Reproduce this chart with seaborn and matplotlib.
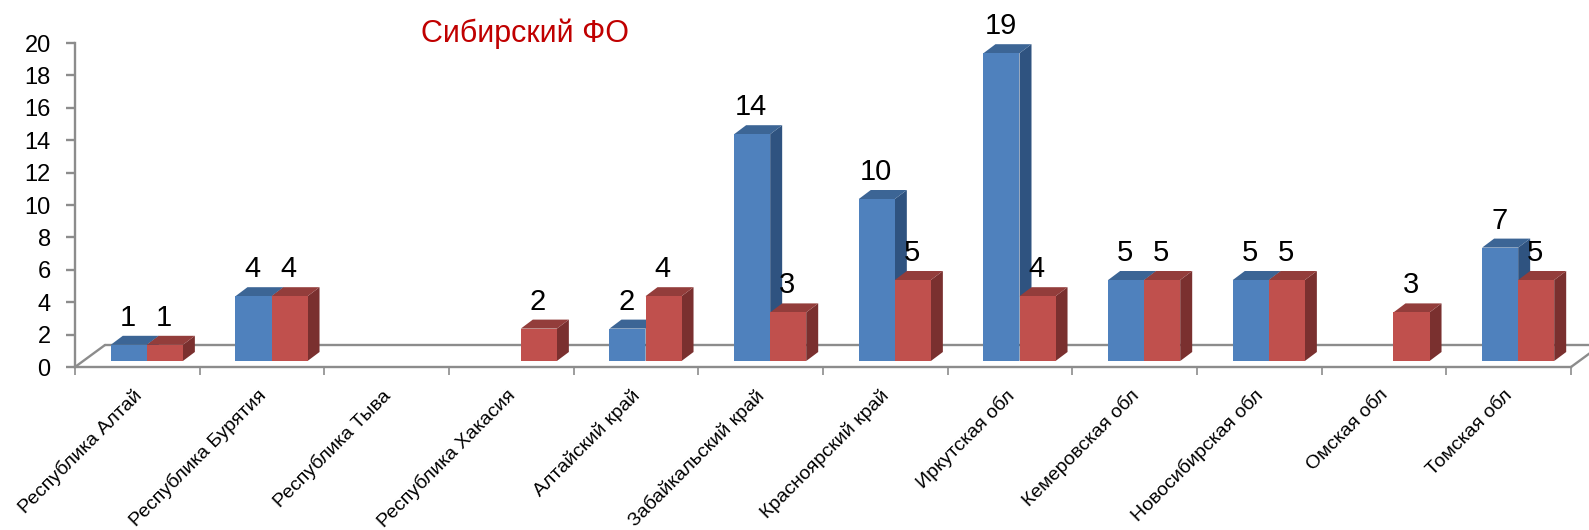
import numpy as np
import pandas as pd
import seaborn as sns
import matplotlib
matplotlib.use("Agg")
import matplotlib.pyplot as plt
from matplotlib.patches import Polygon
from matplotlib.transforms import Affine2D

regions = ["Республика Алтай", "Республика Бурятия", "Республика Тыва", "Республика Хакасия",
           "Алтайский край", "Забайкальский край", "Красноярский край", "Иркутская обл",
           "Кемеровская обл", "Новосибирская обл", "Омская обл", "Томская обл"]
blue_values = [1, 4, np.nan, np.nan, 2, 14, 10, 19, 5, 5, np.nan, 7]
red_values = [1, 4, np.nan, 2, 4, 3, 5, 4, 5, 5, 3, 5]
y_ticks = list(range(0, 21, 2))
title_text = "Сибирский ФО"

sns.set_theme(style="white")
plt.rcParams["font.family"] = ["Liberation Sans", "DejaVu Sans"]

df = pd.DataFrame({
    "region": regions * 2,
    "series": ["blue"] * len(regions) + ["red"] * len(regions),
    "value": blue_values + red_values,
})

W, H = 1589, 530
fig = plt.figure(figsize=(W / 100, H / 100), dpi=100, facecolor="white")
ax = fig.add_axes([75 / W, (H - 367) / H, (1571 - 75) / W, 324 / H])

sns.barplot(data=df, x="region", y="value", hue="series", order=regions,
            palette={"blue": "#4F81BD", "red": "#C0504D"}, saturation=1,
            width=0.578, legend=False, ax=ax, linewidth=0, errorbar=None)
ax.set_xlim(-0.5, len(regions) - 0.5)
ax.set_ylim(0, 20)
ax.set_xlabel("")
ax.set_ylabel("")

GREY = "#8C8C8C"
front = ax.transData + Affine2D().translate(9.5, 6)
DEPTH_X, DEPTH_Y = 12, 9
px2y = 20 / 324
per_x = (len(regions)) / (1571 - 75)

shades = [("#3C6595", "#2F5380"), ("#933D3B", "#7A302F")]
for i, container in enumerate(ax.containers):
    top_c, side_c = shades[i]
    for bar in container:
        h = bar.get_height()
        if not np.isfinite(h) or h <= 0:
            bar.set_visible(False)
            continue
        x0, x1 = bar.get_x(), bar.get_x() + bar.get_width()
        dx, dy = DEPTH_X * per_x, DEPTH_Y * px2y
        bar.set_transform(front)
        bar.set_zorder(3 + 2 * i)
        bar.set_clip_on(False)
        ax.add_patch(Polygon([(x1, 0), (x1 + dx, dy), (x1 + dx, h + dy), (x1, h)], closed=True,
                             facecolor=side_c, edgecolor="none", transform=front,
                             zorder=2 + 2 * i, clip_on=False))
        ax.add_patch(Polygon([(x0, h), (x0 + dx, h + dy), (x1 + dx, h + dy), (x1, h)], closed=True,
                             facecolor=top_c, edgecolor="none", transform=front,
                             zorder=2 + 2 * i, clip_on=False))
        ax.text((x0 + x1) / 2, h, f"{int(h)}", transform=front + Affine2D().translate(-1, 19),
                ha="center", va="baseline", fontsize=21, color="black", zorder=10, clip_on=False)

# floor of the 3D box
lw = 1.7
ax.plot([-0.5, -0.5 + 30 * per_x], [0, 22 * px2y], color=GREY, lw=lw, clip_on=False, zorder=1)
ax.plot([-0.5 + 30 * per_x, 11.5 + 30 * per_x], [22 * px2y, 22 * px2y], color=GREY, lw=lw, clip_on=False, zorder=1)
ax.plot([11.5, 11.5 + 30 * per_x], [0, 22 * px2y], color=GREY, lw=lw, clip_on=False, zorder=1)

for s in ["top", "right"]:
    ax.spines[s].set_visible(False)
for s in ["left", "bottom"]:
    ax.spines[s].set_color(GREY)
    ax.spines[s].set_linewidth(lw)

ax.set_yticks(y_ticks)
ax.set_yticklabels([str(v) for v in y_ticks])
ax.tick_params(axis="y", left=True, length=6.5, width=lw, color=GREY, labelsize=17, pad=11, labelcolor="black")
ax.set_xticks(range(len(regions)))
ax.set_xticklabels(regions, rotation=45, ha="right", rotation_mode="anchor")
ax.tick_params(axis="x", which="major", bottom=False, length=0, labelsize=14, pad=14, labelcolor="black")
ax.set_xticks(np.arange(-0.5, len(regions)), minor=True)
ax.tick_params(axis="x", which="minor", bottom=True, length=6, width=1.2, color=GREY)
for lab in ax.get_xticklabels():
    lab.set_transform(lab.get_transform() + Affine2D().translate(-5, 0))

fig.text(525 / W, 1 - 34 / H, title_text, color="#C00000", fontsize=22, ha="center", va="center")

fig.savefig("out.png", dpi=100, facecolor="white")
